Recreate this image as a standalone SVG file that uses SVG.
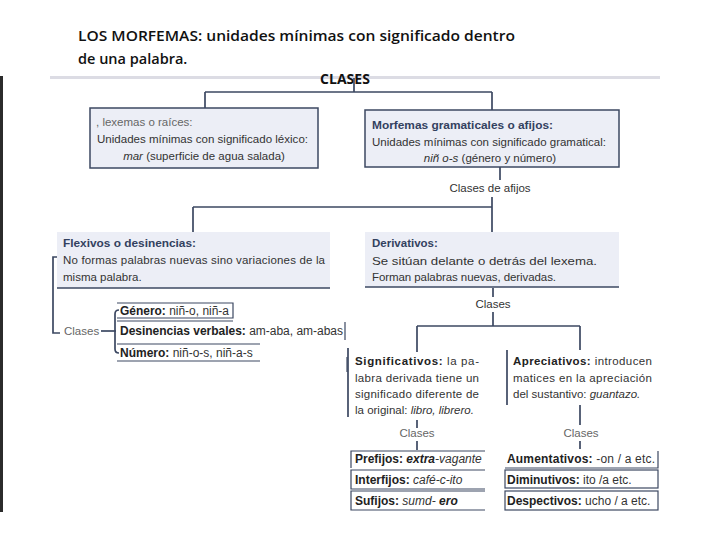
<svg xmlns="http://www.w3.org/2000/svg" width="720" height="540" viewBox="0 0 720 540">
<style>
.t{font-family:"Liberation Sans",Arial,sans-serif;font-size:11.5px;fill:#333}
.s{font-size:12px}
.h{font-weight:bold;fill:#33415f}
.b{font-weight:bold;fill:#222}
.i{font-style:italic}
.g{fill:#666}
.box{fill:#eceef6;stroke:#3c4862;stroke-width:1.5}
.fill{fill:#eceef6}
.ln{fill:none;stroke:#3c4862;stroke-width:1.7}
.thin{fill:none;stroke:#3c4862;stroke-width:1.2}
</style>
<rect width="720" height="540" fill="#ffffff"/>
<rect x="0" y="76" width="3" height="436" fill="#2b2b2b"/>
<g id="title">
<text x="78" y="41" font-family="'Open Sans','Liberation Sans',sans-serif" font-size="14.5" font-weight="600" fill="#111" textLength="437" lengthAdjust="spacingAndGlyphs">LOS MORFEMAS: unidades mínimas con significado dentro</text>
<text x="78" y="64" font-family="'Open Sans','Liberation Sans',sans-serif" font-size="14.5" font-weight="600" fill="#111">de una palabra.</text>
<rect x="50" y="76" width="610" height="3" fill="#dcdce4"/>
<text x="345" y="84" text-anchor="middle" font-family="'Open Sans','Liberation Sans',sans-serif" font-size="14" font-weight="bold" fill="#111">CLASES</text>
</g>
<g id="connectors">
<path class="ln" d="M354 78V92M205 92H492M205 92V108M492 92V110"/>
<path class="ln" d="M500 167V180M492 197V207M193 207H492M193 207V232M492 207V232"/>
<path class="ln" d="M493 288V297M493 312V326M417 326H580M417 326V352M580 326V350"/>
<path class="ln" d="M348 348V417M417 420V428M417 441V450"/>
<path class="ln" d="M507 350V405M580 405V425M580 441V449"/>
<path class="ln" d="M57 257H53V333H60"/>
<path class="ln" d="M101 331H116"/>
<path class="ln" d="M119 310Q115 310 115 314V349Q115 353 119 353"/>
<path class="thin" d="M347 357V372"/>
</g>
<g id="lexemas">
<rect class="box" x="90" y="108" width="228" height="60"/>
<text class="t g" x="96" y="126" font-size="10.5">, lexemas o raíces:</text>
<text class="t" x="97" y="143" textLength="211" lengthAdjust="spacingAndGlyphs">Unidades mínimas con significado léxico:</text>
<text class="t" x="204" y="160" text-anchor="middle"><tspan class="i">mar</tspan> (superficie de agua salada)</text>
</g>
<g id="gramaticales">
<rect class="box" x="365" y="110" width="254" height="57"/>
<text class="t h" x="372" y="129" textLength="181" lengthAdjust="spacingAndGlyphs">Morfemas gramaticales o afijos:</text>
<text class="t" x="372" y="146" textLength="234" lengthAdjust="spacingAndGlyphs">Unidades mínimas con significado gramatical:</text>
<text class="t" x="490" y="162" text-anchor="middle"><tspan class="i">niñ o-s</tspan> (género y número)</text>
<text class="t" x="490" y="192" text-anchor="middle" font-size="11">Clases de afijos</text>
</g>
<g id="flexivos">
<rect class="fill" x="57" y="232" width="273" height="56"/>
<path class="ln" d="M57 288H330"/>
<text class="t h" x="63" y="247" textLength="133" lengthAdjust="spacingAndGlyphs">Flexivos o desinencias:</text>
<text class="t" x="63" y="264" textLength="262" lengthAdjust="spacing">No formas palabras nuevas sino variaciones de la</text>
<text class="t" x="63" y="281">misma palabra.</text>
<text class="t g" x="64" y="335" font-size="11">Clases</text>
</g>
<g id="genero">
<path class="thin" d="M117 303H233V318H117"/>
<text class="t s" x="120" y="315" textLength="109" lengthAdjust="spacingAndGlyphs"><tspan class="b">Género:</tspan> niñ-o, niñ-a</text>
</g>
<g id="desinencias">
<path class="thin" d="M117 321H233M345 322V340"/>
<text class="t s" x="120" y="335" textLength="223" lengthAdjust="spacing"><tspan class="b">Desinencias verbales:</tspan> am-aba, am-abas</text>
</g>
<g id="numero">
<path class="thin" d="M117 344H260M117 361H260"/>
<text class="t s" x="120" y="357"><tspan class="b">Número:</tspan> niñ-o-s, niñ-a-s</text>
</g>
<g id="derivativos">
<rect class="fill" x="365" y="232" width="254" height="55"/>
<path class="ln" d="M365 287H619"/>
<text class="t h" x="372" y="247">Derivativos:</text>
<text class="t" x="372" y="265" font-size="12.5" textLength="225" lengthAdjust="spacingAndGlyphs">Se sitúan delante o detrás del lexema.</text>
<text class="t" x="372" y="281" textLength="184" lengthAdjust="spacing">Forman palabras nuevas, derivadas.</text>
<text class="t" x="493" y="308" text-anchor="middle" font-size="11">Clases</text>
</g>
<g id="significativos">
<text class="t" x="355" y="365" textLength="124" lengthAdjust="spacing"><tspan class="b">Significativos:</tspan> la pa-</text>
<text class="t" x="355" y="382" textLength="124" lengthAdjust="spacing">labra derivada tiene un</text>
<text class="t" x="355" y="398" textLength="124" lengthAdjust="spacing">significado diferente de</text>
<text class="t" x="355" y="414">la original: <tspan class="i">libro, librero.</tspan></text>
<text class="t g" x="417" y="437" text-anchor="middle" font-size="10.5">Clases</text>
</g>
<g id="apreciativos">
<text class="t" x="513" y="365" textLength="139" lengthAdjust="spacing"><tspan class="b">Apreciativos:</tspan> introducen</text>
<text class="t" x="513" y="382" textLength="139" lengthAdjust="spacing">matices en la apreciación</text>
<text class="t" x="513" y="398">del sustantivo: <tspan class="i">guantazo.</tspan></text>
<text class="t g" x="581" y="437" text-anchor="middle" font-size="10.5">Clases</text>
</g>
<g id="prefijos">
<path class="thin" d="M485 451H351V468"/>
<text class="t s" x="355" y="463"><tspan class="b">Prefijos:</tspan> <tspan class="b i">extra</tspan><tspan class="i">-vagante</tspan></text>
</g>
<g id="interfijos">
<path class="thin" d="M485 470H351V489H485"/>
<text class="t s" x="355" y="484"><tspan class="b">Interfijos:</tspan> <tspan class="i">café-c-ito</tspan></text>
</g>
<g id="sufijos">
<path class="thin" d="M485 491H351V510H485"/>
<text class="t s" x="355" y="505"><tspan class="b">Sufijos:</tspan> <tspan class="i">sumd- </tspan><tspan class="b i">ero</tspan></text>
</g>
<g id="aumentativos">
<path class="thin" d="M658 451V468H505"/>
<text class="t s" x="507" y="463" textLength="148" lengthAdjust="spacing"><tspan class="b">Aumentativos:</tspan> -on / a etc.</text>
</g>
<g id="diminutivos">
<rect class="thin" x="505" y="470" width="153" height="18"/>
<text class="t s" x="507" y="484"><tspan class="b">Diminutivos:</tspan>  ito /a etc.</text>
</g>
<g id="despectivos">
<rect class="thin" x="505" y="491" width="153" height="19"/>
<text class="t s" x="507" y="505"><tspan class="b">Despectivos:</tspan> ucho / a etc.</text>
</g>
</svg>
